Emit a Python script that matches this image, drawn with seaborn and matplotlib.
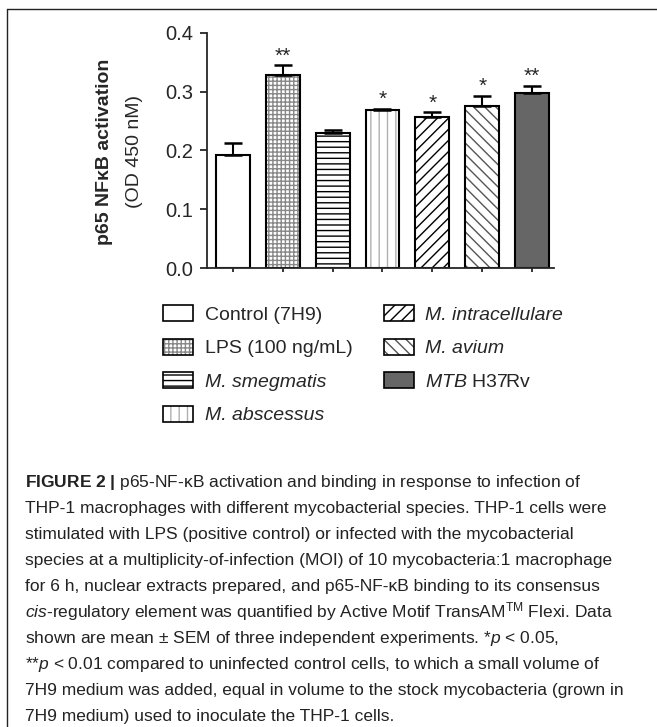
import numpy as np
import pandas as pd
import seaborn as sns
import matplotlib.pyplot as plt
from matplotlib.patches import Patch
from matplotlib.lines import Line2D

# data
groups = ['Control (7H9)', 'LPS (100 ng/mL)', 'M. smegmatis', 'M. abscessus',
          'M. intracellulare', 'M. avium', 'MTB H37Rv']
values = [0.192, 0.328, 0.230, 0.269, 0.257, 0.275, 0.298]
sem = [0.020, 0.017, 0.005, 0.002, 0.008, 0.018, 0.012]
stars = ['', '**', '', '*', '*', '*', '**']
legend_labels = ['Control (7H9)', 'LPS (100 ng/mL)', 'M. smegmatis', 'M. abscessus',
                 'M. intracellulare', 'M. avium', r'$\it{MTB}$ H37Rv']
italic_labels = [False, False, True, True, True, True, False]
yticks = [0.0, 0.1, 0.2, 0.3, 0.4]

caption = [
    r'$\mathbf{FIGURE\ 2\ |}$ p65-NF-κB activation and binding in response to infection of',
    'THP-1 macrophages with different mycobacterial species. THP-1 cells were',
    'stimulated with LPS (positive control) or infected with the mycobacterial',
    'species at a multiplicity-of-infection (MOI) of 10 mycobacteria:1 macrophage',
    'for 6 h, nuclear extracts prepared, and p65-NF-κB binding to its consensus',
    r'$\it{cis}$-regulatory element was quantified by Active Motif TransAM$^{\rm TM}$ Flexi. Data',
    r'shown are mean ± SEM of three independent experiments. *$\it{p}$ < 0.05,',
    r'**$\it{p}$ < 0.01 compared to uninfected control cells, to which a small volume of',
    '7H9 medium was added, equal in volume to the stock mycobacteria (grown in',
    '7H9 medium) used to inoculate the THP-1 cells.',
]

fills = ['white', 'white', 'white', 'white', 'white', 'white', '#666666']
hatches = ['', '++++', '---', '||', '///', '\\\\\\', '']
hatch_colors = ['black', '#888888', 'black', '#b0b0b0', 'black', '#555555', 'black']

sns.set_style('ticks')
plt.rcParams['font.family'] = ['Liberation Sans', 'DejaVu Sans']
plt.rcParams['mathtext.fontset'] = 'custom'
plt.rcParams['mathtext.rm'] = 'Liberation Sans'
plt.rcParams['mathtext.it'] = 'Liberation Sans:italic'
plt.rcParams['mathtext.bf'] = 'Liberation Sans:bold'
plt.rcParams['hatch.linewidth'] = 1.0

W, H = 657, 727
fig = plt.figure(figsize=(W / 100, H / 100), dpi=100)
ax = fig.add_axes([207 / W, 1 - 268 / H, 347 / W, 235.3 / H])

df = pd.DataFrame({'group': groups, 'value': values})
sns.barplot(data=df, x='group', y='value', hue='group', palette=fills, legend=False,
            errorbar=None, width=0.68, saturation=1, linewidth=0, ax=ax)
for p, h, hc in zip(ax.patches, hatches, hatch_colors):
    p.set_hatch(h)
    p.set_edgecolor(hc)
    p.set_linewidth(0)
# black outlines on top
sns.barplot(data=df, x='group', y='value', errorbar=None, width=0.68, fill=False,
            color='black', linewidth=1.5, ax=ax)

pos = np.arange(len(values))
ax.errorbar(pos, values, yerr=[np.zeros(len(sem)), sem], fmt='none', ecolor='black',
            elinewidth=1.5, capsize=6.5, capthick=1.8, zorder=4)
for x, v, e, s in zip(pos, values, sem, stars):
    if s:
        ax.annotate(s, (x, v + e), xytext=(0, 2.5), textcoords='offset points',
                    ha='center', va='baseline', fontsize=15)

ax.set_xlim(-0.52, 6.44)
ax.set_ylim(0, 0.4)
ax.set_yticks(yticks)
ax.set_yticklabels([f'{t:.1f}' for t in yticks])
ax.set_xticks(pos)
ax.set_xticklabels([])
ax.set_xlabel('')
sns.despine(ax=ax)
for sp in ['left', 'bottom']:
    ax.spines[sp].set_linewidth(1.3)
ax.tick_params(axis='y', width=1.3, length=5, labelsize=14.5, pad=5)
ax.tick_params(axis='x', width=1.3, length=3)

ax.set_ylabel('p65 NFκB activation', fontsize=14, fontweight='bold')
ax.yaxis.set_label_coords(-0.271, 0.493)
ax.text(-0.210, 0.493, '(OD 450 nM)', transform=ax.transAxes, rotation=90,
        ha='center', va='center', fontsize=14)

handles = [(Patch(facecolor=f, edgecolor=hc, hatch=h, linewidth=0),
            Patch(facecolor='none', edgecolor='black', linewidth=1.2))
           for f, h, hc in zip(fills, hatches, hatch_colors)]
leg = fig.legend(handles, legend_labels, ncol=2, loc='upper left',
                 bbox_to_anchor=(163 / W, 1 - 305 / H), frameon=False, fontsize=14,
                 handlelength=1.55, handleheight=0.9, handletextpad=0.6,
                 columnspacing=1.6, labelspacing=0.76, borderpad=0, borderaxespad=0)
for t, it in zip(leg.get_texts(), italic_labels):
    if it:
        t.set_fontstyle('italic')

# frame around the figure panel
fig.add_artist(Line2D([7 / W, 7 / W], [0, 1 - 9 / H], color='#222222', lw=1))
fig.add_artist(Line2D([7 / W, 1], [1 - 9 / H, 1 - 9 / H], color='#222222', lw=1))

for i, line in enumerate(caption):
    fig.text(25 / W, 1 - (487.3 + 26 * i) / H, line, ha='left', va='baseline',
             fontsize=12.5, color='#222222')

fig.savefig('out.png', dpi=100)
